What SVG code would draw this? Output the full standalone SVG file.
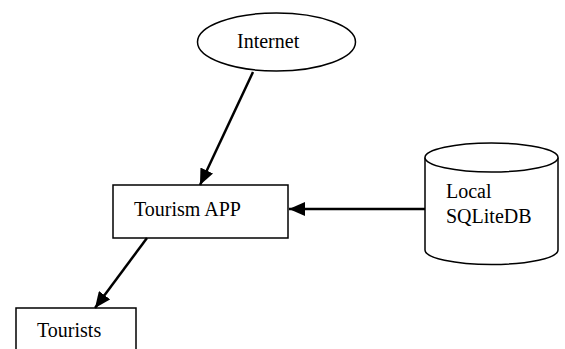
<svg xmlns="http://www.w3.org/2000/svg" width="565" height="349" viewBox="0 0 565 349">
<style>
.shape{fill:#fff;stroke:#000;stroke-width:1.5}
.lbl{font-family:"Liberation Serif","Times New Roman",serif;font-size:20px;fill:#000}
.conn{stroke:#000;stroke-width:2.5;fill:none;marker-end:url(#ah)}
</style>
<defs>
<marker id="ah" markerUnits="userSpaceOnUse" markerWidth="16" markerHeight="14" viewBox="0 0 16 14" refX="16" refY="7" orient="auto">
<path d="M0,0 L16,7 L0,14 Z" fill="#000"/>
</marker>
</defs>
<rect width="565" height="349" fill="#fff"/>
<g id="internet">
<ellipse class="shape" cx="276.5" cy="42" rx="79" ry="29"/>
<text class="lbl" x="237" y="48">Internet</text>
</g>
<g id="tourism-app">
<rect class="shape" x="113" y="185" width="175" height="53"/>
<text class="lbl" x="134" y="216">Tourism APP</text>
</g>
<g id="local-db">
<path class="shape" d="M425,157.5 L425,250 A66.5,14.5 0 0 0 558,250 L558,157.5"/>
<ellipse class="shape" cx="491.5" cy="157.5" rx="66.5" ry="14.5"/>
<text class="lbl" x="446" y="198">Local</text>
<text class="lbl" x="446" y="223">SQLiteDB</text>
</g>
<g id="tourists">
<rect class="shape" x="16" y="308" width="120" height="50"/>
<text class="lbl" x="37" y="337">Tourists</text>
</g>
<g id="connectors">
<line class="conn" x1="253" y1="72" x2="200" y2="185"/>
<line class="conn" x1="425" y1="209" x2="289" y2="209"/>
<line class="conn" x1="147" y1="238" x2="95" y2="308"/>
</g>
</svg>
